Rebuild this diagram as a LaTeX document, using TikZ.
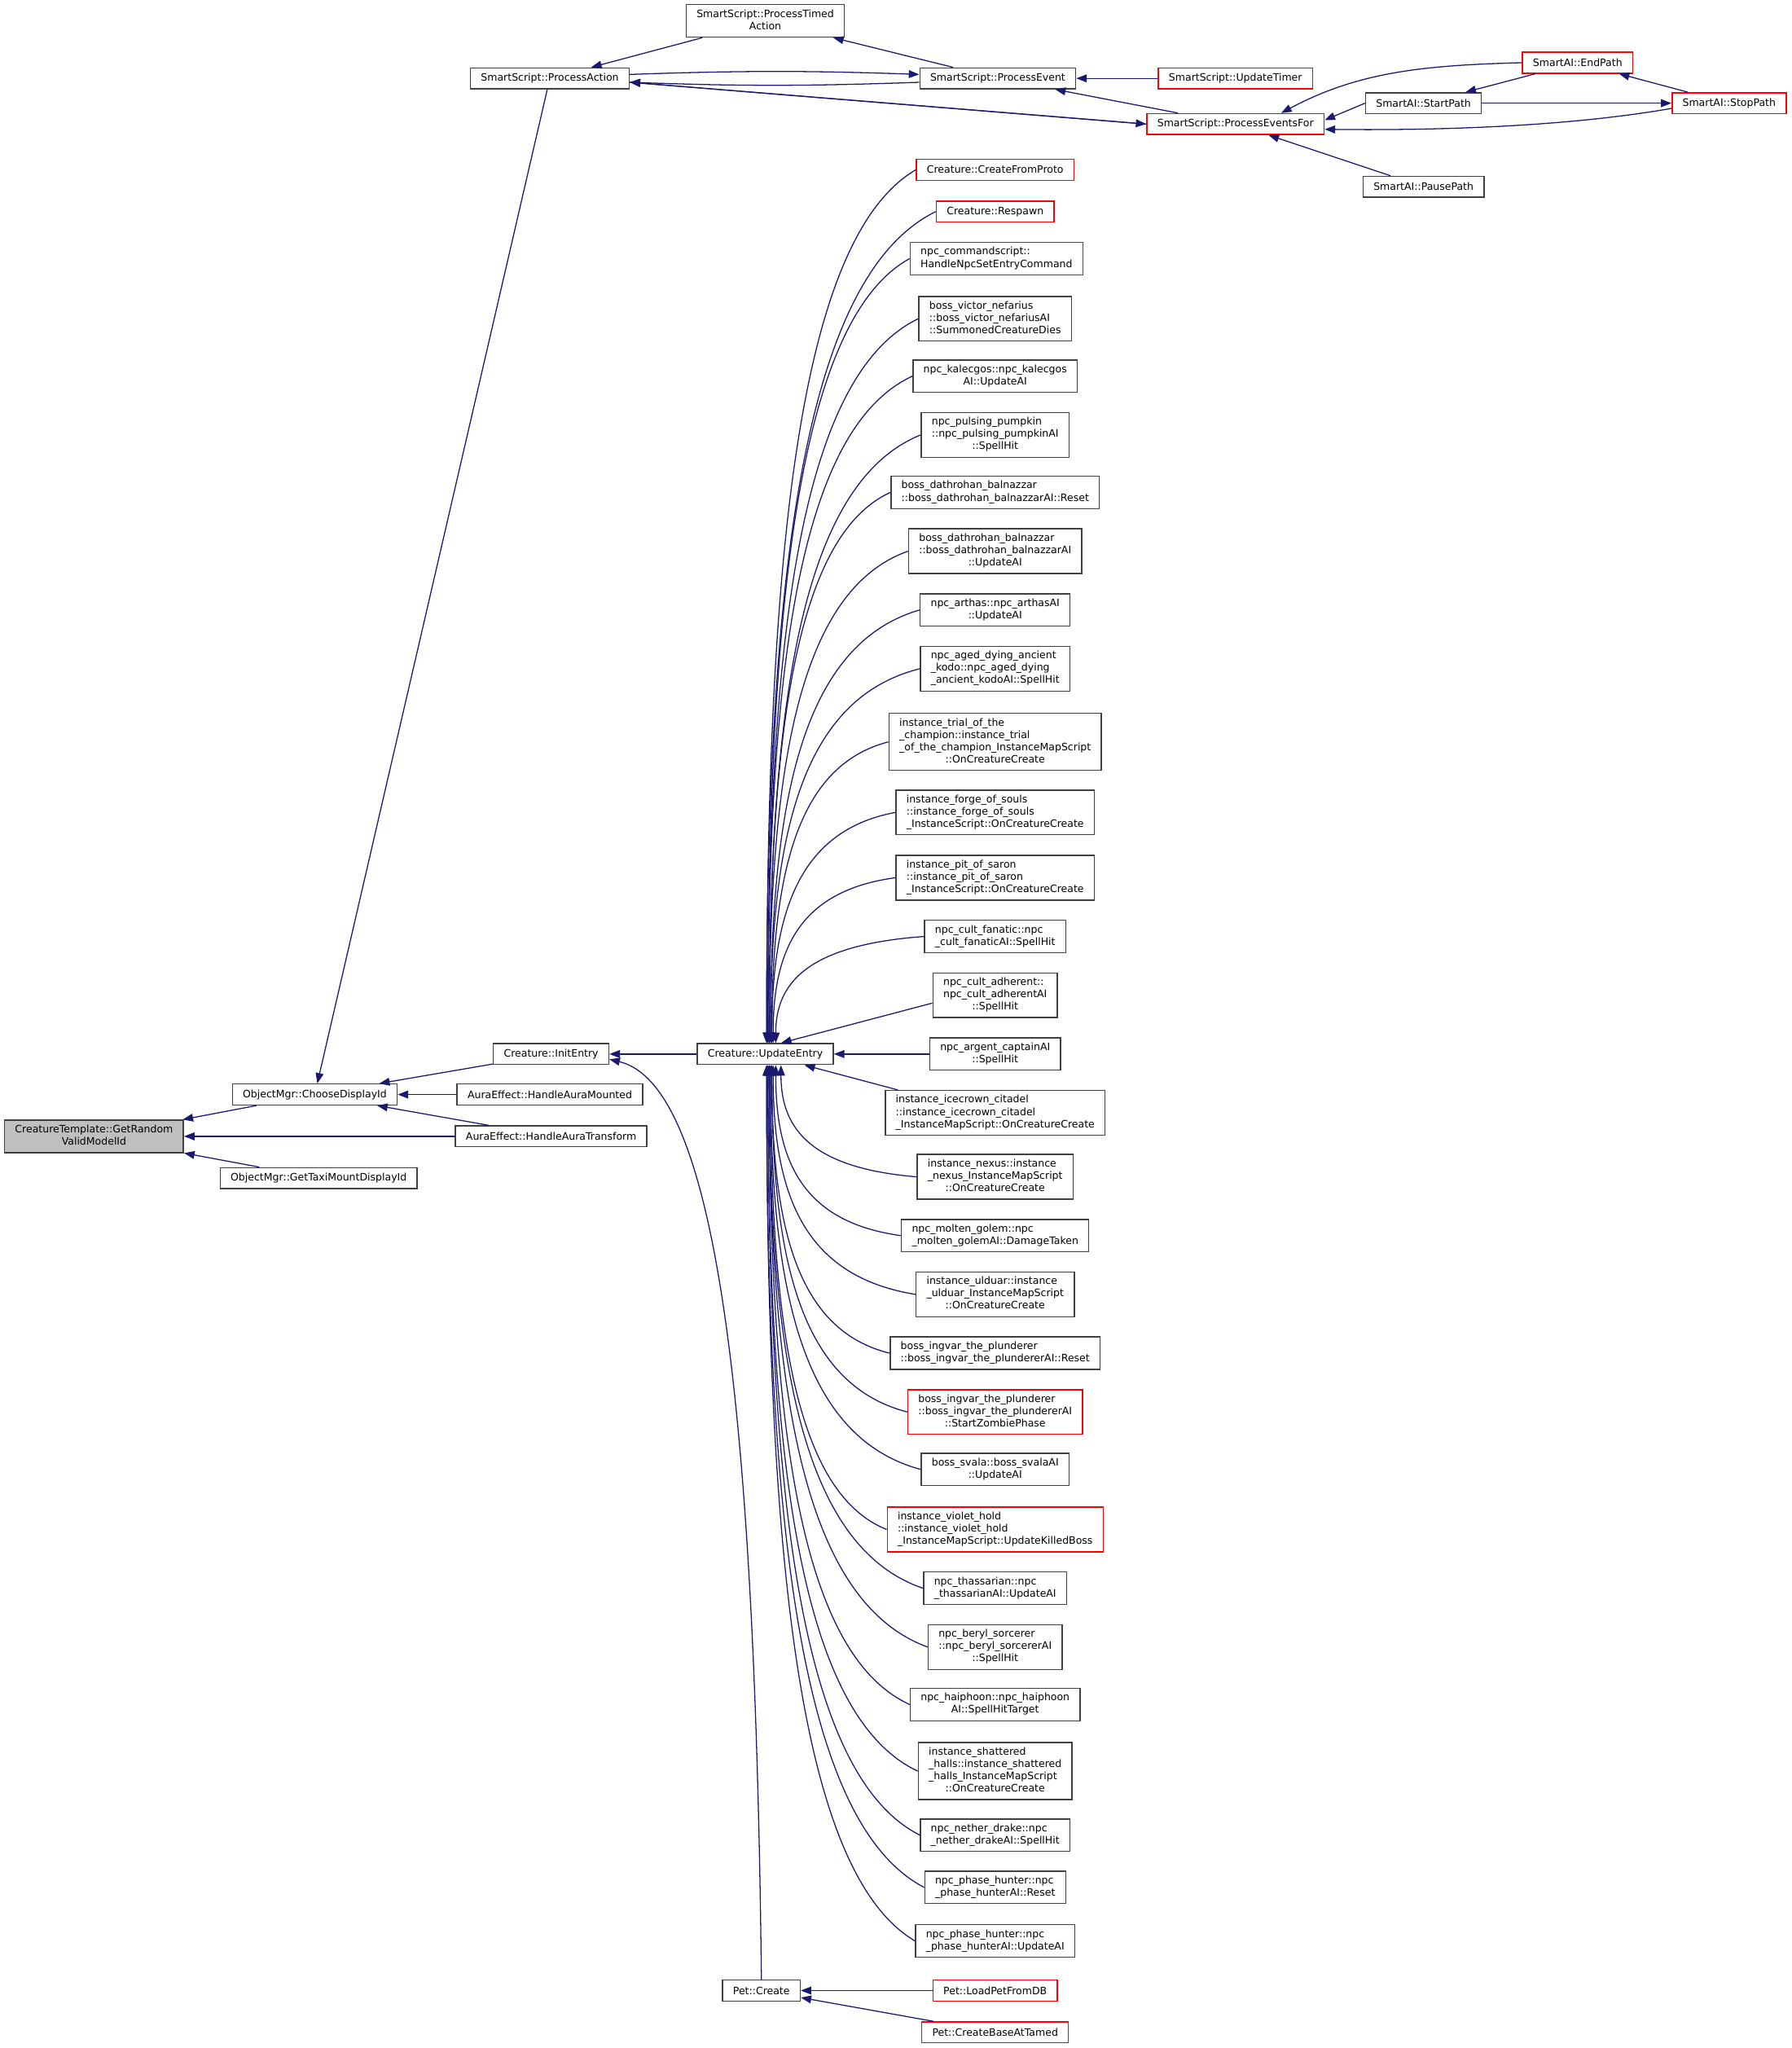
\documentclass[tikz,border=0pt]{standalone}
\usepackage{fontspec}
\setmainfont{DejaVu Sans}
\usetikzlibrary{arrows.meta,calc}
\definecolor{edgeblue}{HTML}{191970}
\definecolor{boxline}{HTML}{404040}
\definecolor{hilite}{HTML}{BFBFBF}
\newcommand{\dlines}[2]{\begin{tabular}{@{}l@{}}#1\\\multicolumn{1}{@{}c@{}}{#2}\end{tabular}}

\begin{document}
\begin{tikzpicture}[x=1pt, y=-1pt,
  box/.style={draw=boxline, fill=white, line width=0.9pt, font=\fontsize{7.8}{9.4}\selectfont,
              inner xsep=8pt, inner ysep=3pt, minimum height=16pt},
  redbox/.style={box, draw=red},
  call/.style={draw=edgeblue, line width=0.8pt, -{Triangle[length=8pt,width=6pt]}},
  fanin/.style={to path={let \p1=(\tikztostart), \p2=(\tikztotarget) in
     .. controls ({\x1-0.8*(\x1-\x2)},{\y1+0.08*(\y2-\y1)}) and (\x2,{\y1+0.45*(\y2-\y1)}) .. (\tikztotarget)}}
]
  \useasboundingbox (0,0) rectangle (1372,1568);

  % left part
  \node[box, fill=hilite] (ct)        at (72,870)  {\dlines{CreatureTemplate::GetRandom}{ValidModelId}};
  \node[box]              (choose)    at (241,838) {ObjectMgr::ChooseDisplayId};
  \node[box]              (taxi)      at (244,902) {ObjectMgr::GetTaxiMountDisplayId};
  \node[box]              (init)      at (422,807) {Creature::InitEntry};
  \node[box]              (mounted)   at (421,838) {AuraEffect::HandleAuraMounted};
  \node[box]              (transform) at (422,870) {AuraEffect::HandleAuraTransform};
  \node[box]              (ue)        at (586,807) {Creature::UpdateEntry};
  \node[box]              (petc)      at (583,1524) {Pet::Create};
  \node[redbox]           (loadpet)   at (762,1524) {Pet::LoadPetFromDB};
  \node[redbox]           (tamed)     at (762,1556) {Pet::CreateBaseAtTamed};

  % smart scripts
  \node[box]    (paction)   at (421,60)  {SmartScript::ProcessAction};
  \node[box]    (ptimed)    at (586,16)  {\dlines{SmartScript::ProcessTimed}{Action}};
  \node[box]    (pevent)    at (764,60)  {SmartScript::ProcessEvent};
  \node[redbox] (utimer)    at (946,60)  {SmartScript::UpdateTimer};
  \node[redbox] (pefor)     at (946,95)  {SmartScript::ProcessEventsFor};
  \node[redbox] (endpath)   at (1208,48) {SmartAI::EndPath};
  \node[box]    (startpath) at (1090,79) {SmartAI::StartPath};
  \node[redbox] (stoppath)  at (1324,79) {SmartAI::StopPath};
  \node[box]    (pausepath) at (1090,143) {SmartAI::PausePath};

  % callers of UpdateEntry
  \node[redbox] (cfp)       at (762,130)  {Creature::CreateFromProto};
  \node[redbox] (resp)      at (762,162)  {Creature::Respawn};
  \node[redbox] (npccmd)    at (763,198)  {\dlines{npc\_commandscript::}{HandleNpcSetEntryCommand}};
  \node[box]    (victor)    at (762,244)  {\dlines{boss\_victor\_nefarius\\::boss\_victor\_nefariusAI}{::SummonedCreatureDies}};
  \node[box]    (kalec)     at (762,288)  {\dlines{npc\_kalecgos::npc\_kalecgos}{AI::UpdateAI}};
  \node[box]    (pumpkin)   at (762,333)  {\dlines{npc\_pulsing\_pumpkin\\::npc\_pulsing\_pumpkinAI}{::SpellHit}};
  \node[box]    (balreset)  at (762,377)  {\dlines{boss\_dathrohan\_balnazzar}{::boss\_dathrohan\_balnazzarAI::Reset}};
  \node[box]    (balupd)    at (762,422)  {\dlines{boss\_dathrohan\_balnazzar\\::boss\_dathrohan\_balnazzarAI}{::UpdateAI}};
  \node[box]    (arthas)    at (762,467)  {\dlines{npc\_arthas::npc\_arthasAI}{::UpdateAI}};
  \node[box]    (kodo)      at (762,512)  {\dlines{npc\_aged\_dying\_ancient\\\_kodo::npc\_aged\_dying}{\_ancient\_kodoAI::SpellHit}};
  \node[box]    (trial)     at (762,568)  {\dlines{instance\_trial\_of\_the\\\_champion::instance\_trial\\\_of\_the\_champion\_InstanceMapScript}{::OnCreatureCreate}};
  \node[box]    (forge)     at (762,622)  {\dlines{instance\_forge\_of\_souls\\::instance\_forge\_of\_souls}{\_InstanceScript::OnCreatureCreate}};
  \node[box]    (saron)     at (762,672)  {\dlines{instance\_pit\_of\_saron\\::instance\_pit\_of\_saron}{\_InstanceScript::OnCreatureCreate}};
  \node[box]    (fanatic)   at (762,717)  {\dlines{npc\_cult\_fanatic::npc}{\_cult\_fanaticAI::SpellHit}};
  \node[box]    (adherent)  at (762,762)  {\dlines{npc\_cult\_adherent::\\npc\_cult\_adherentAI}{::SpellHit}};
  \node[box]    (argent)    at (762,807)  {\dlines{npc\_argent\_captainAI}{::SpellHit}};
  \node[box]    (icecrown)  at (762,852)  {\dlines{instance\_icecrown\_citadel\\::instance\_icecrown\_citadel}{\_InstanceMapScript::OnCreatureCreate}};
  \node[box]    (nexus)     at (762,901)  {\dlines{instance\_nexus::instance\\\_nexus\_InstanceMapScript}{::OnCreatureCreate}};
  \node[box]    (golem)     at (762,946)  {\dlines{npc\_molten\_golem::npc}{\_molten\_golemAI::DamageTaken}};
  \node[box]    (ulduar)    at (762,991)  {\dlines{instance\_ulduar::instance\\\_ulduar\_InstanceMapScript}{::OnCreatureCreate}};
  \node[box]    (ingreset)  at (762,1036) {\dlines{boss\_ingvar\_the\_plunderer}{::boss\_ingvar\_the\_plundererAI::Reset}};
  \node[redbox] (ingzombie) at (762,1081) {\dlines{boss\_ingvar\_the\_plunderer\\::boss\_ingvar\_the\_plundererAI}{::StartZombiePhase}};
  \node[box]    (svala)     at (762,1125) {\dlines{boss\_svala::boss\_svalaAI}{::UpdateAI}};
  \node[redbox] (violet)    at (762,1171) {\dlines{instance\_violet\_hold\\::instance\_violet\_hold}{\_InstanceMapScript::UpdateKilledBoss}};
  \node[box]    (thass)     at (762,1216) {\dlines{npc\_thassarian::npc}{\_thassarianAI::UpdateAI}};
  \node[box]    (beryl)     at (762,1261) {\dlines{npc\_beryl\_sorcerer\\::npc\_beryl\_sorcererAI}{::SpellHit}};
  \node[box]    (haiphoon)  at (762,1305) {\dlines{npc\_haiphoon::npc\_haiphoon}{AI::SpellHitTarget}};
  \node[box]    (shattered) at (762,1356) {\dlines{instance\_shattered\\\_halls::instance\_shattered\\\_halls\_InstanceMapScript}{::OnCreatureCreate}};
  \node[box]    (nether)    at (762,1405) {\dlines{npc\_nether\_drake::npc}{\_nether\_drakeAI::SpellHit}};
  \node[box]    (phreset)   at (762,1445) {\dlines{npc\_phase\_hunter::npc}{\_phase\_hunterAI::Reset}};
  \node[box]    (phupd)     at (762,1486) {\dlines{npc\_phase\_hunter::npc}{\_phase\_hunterAI::UpdateAI}};

  % calls into GetRandomValidModelId and ChooseDisplayId
  \draw[call] (choose) -- (ct);
  \draw[call] (transform.west) -- (ct.east);
  \draw[call] (taxi) -- (ct);
  \draw[call] (init) -- (choose);
  \draw[call] (mounted.west) -- (choose.east);
  \draw[call] (transform) -- (choose);
  \draw[call] (paction) -- (choose);
  \draw[call] (ue.west) -- (init.east);
  \draw[call] (petc.north) .. controls (578,1050) and (545,830) .. ([yshift=-4pt]init.east);
  \draw[call] (loadpet.west) -- (petc.east);
  \draw[call] (tamed) -- (petc);

  % smart script loop
  \draw[call] (ptimed) -- (paction);
  \draw[call] (pevent) -- (ptimed);
  \draw[call] ([yshift=3pt]paction.east) to[bend left=2] ([yshift=3pt]pevent.west);
  \draw[call] ([yshift=-3pt]pevent.west) to[bend left=2] ([yshift=-3pt]paction.east);
  \draw[call] (pefor.west) -- ([yshift=-3pt]paction.east);
  \draw[call] ([yshift=-3pt]paction.east) -- (pefor.west);
  \draw[call] (utimer.west) -- (pevent.east);
  \draw[call] (pefor) -- (pevent);
  \draw[call] (endpath.west) .. controls (1090,50) and (1040,55) .. ([xshift=35pt]pefor.north);
  \draw[call] (startpath.west) -- ([yshift=3pt]pefor.east);
  \draw[call] ([yshift=-4pt]stoppath.west) .. controls (1200,97) and (1100,100) .. ([yshift=-4pt]pefor.east);
  \draw[call] (pausepath) -- (pefor);
  \draw[call] (endpath) -- (startpath);
  \draw[call] (startpath.east) -- (stoppath.west);
  \draw[call] (stoppath) -- (endpath);

  % fan into UpdateEntry
  \draw[call, fanin] (cfp.west)       to ([xshift=1pt]ue.north);
  \draw[call, fanin] (resp.west)      to ([xshift=1pt]ue.north);
  \draw[call, fanin] (npccmd.west)    to ([xshift=2pt]ue.north);
  \draw[call, fanin] (victor.west)    to ([xshift=2pt]ue.north);
  \draw[call, fanin] (kalec.west)     to ([xshift=2pt]ue.north);
  \draw[call, fanin] (pumpkin.west)   to ([xshift=3pt]ue.north);
  \draw[call, fanin] (balreset.west)  to ([xshift=3pt]ue.north);
  \draw[call, fanin] (balupd.west)    to ([xshift=3pt]ue.north);
  \draw[call, fanin] (arthas.west)    to ([xshift=4pt]ue.north);
  \draw[call, fanin] (kodo.west)      to ([xshift=4pt]ue.north);
  \draw[call, fanin] (trial.west)     to ([xshift=5pt]ue.north);
  \draw[call, fanin] (forge.west)     to ([xshift=5pt]ue.north);
  \draw[call, fanin] (saron.west)     to ([xshift=6pt]ue.north);
  \draw[call, fanin] (fanatic.west)   to ([xshift=8pt]ue.north);
  \draw[call] ([yshift=-6pt]adherent.west) -- ([xshift=12pt]ue.north);
  \draw[call] (argent.west) -- (ue.east);
  \draw[call] ([xshift=10pt]icecrown.north west) -- ([xshift=30pt]ue.south);
  \draw[call, fanin] (nexus.west)     to ([xshift=12pt]ue.south);
  \draw[call, fanin] (golem.west)     to ([xshift=8pt]ue.south);
  \draw[call, fanin] (ulduar.west)    to ([xshift=6pt]ue.south);
  \draw[call, fanin] (ingreset.west)  to ([xshift=5pt]ue.south);
  \draw[call, fanin] (ingzombie.west) to ([xshift=5pt]ue.south);
  \draw[call, fanin] (svala.west)     to ([xshift=4pt]ue.south);
  \draw[call, fanin] (violet.west)    to ([xshift=4pt]ue.south);
  \draw[call, fanin] (thass.west)     to ([xshift=3pt]ue.south);
  \draw[call, fanin] (beryl.west)     to ([xshift=3pt]ue.south);
  \draw[call, fanin] (haiphoon.west)  to ([xshift=3pt]ue.south);
  \draw[call, fanin] (shattered.west) to ([xshift=2pt]ue.south);
  \draw[call, fanin] (nether.west)    to ([xshift=2pt]ue.south);
  \draw[call, fanin] (phreset.west)   to ([xshift=1pt]ue.south);
  \draw[call, fanin] (phupd.west)     to ([xshift=1pt]ue.south);
\end{tikzpicture}
\end{document}
